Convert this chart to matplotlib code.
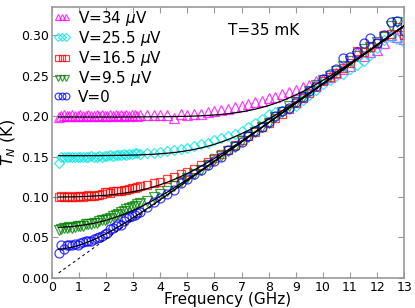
import numpy as np
import matplotlib
matplotlib.use("Agg")
from matplotlib import pyplot as plt

# measured points: fine sweep 0.25-3.15 GHz, coarse sweep 3.25-13 GHz
freq = [0.25, 0.35, 0.45, 0.55, 0.65, 0.75, 0.85, 0.95, 1.05, 1.15,
        1.25, 1.35, 1.45, 1.55, 1.65, 1.75, 1.85, 1.95, 2.05, 2.15,
        2.25, 2.35, 2.45, 2.55, 2.65, 2.75, 2.85, 2.95, 3.05, 3.15,
        3.25, 3.5, 3.75, 4.0, 4.25, 4.5, 4.75, 5.0, 5.25, 5.5,
        5.75, 6.0, 6.25, 6.5, 6.75, 7.0, 7.25, 7.5, 7.75, 8.0,
        8.25, 8.5, 8.75, 9.0, 9.25, 9.5, 9.75, 10.0, 10.25, 10.5,
        10.75, 11.0, 11.25, 11.5, 11.75, 12.0, 12.25, 12.5, 12.75, 13.0]

tn_34 = [0.199, 0.200, 0.201, 0.200, 0.200, 0.201, 0.200, 0.200, 0.201, 0.200,
         0.200, 0.201, 0.200, 0.200, 0.201, 0.200, 0.201, 0.200, 0.200, 0.201,
         0.200, 0.201, 0.200, 0.201, 0.200, 0.201, 0.200, 0.201, 0.201, 0.200,
         0.201, 0.202, 0.201, 0.202, 0.201, 0.198, 0.203, 0.202, 0.203, 0.203,
         0.205, 0.206, 0.208, 0.209, 0.211, 0.213, 0.215, 0.217, 0.219, 0.222,
         0.224, 0.228, 0.230, 0.233, 0.236, 0.239, 0.243, 0.246, 0.249, 0.254,
         0.258, 0.262, 0.279, 0.275, 0.279, 0.282, 0.290, 0.300, 0.298, 0.296]

tn_25 = [0.142, 0.149, 0.150, 0.149, 0.150, 0.150, 0.149, 0.150, 0.150, 0.149,
         0.150, 0.150, 0.151, 0.150, 0.150, 0.151, 0.150, 0.151, 0.151, 0.152,
         0.151, 0.152, 0.152, 0.152, 0.153, 0.152, 0.153, 0.153, 0.154, 0.154,
         0.153, 0.154, 0.155, 0.156, 0.157, 0.158, 0.160, 0.161, 0.163, 0.165,
         0.167, 0.170, 0.173, 0.176, 0.178, 0.182, 0.187, 0.191, 0.197, 0.203,
         0.205, 0.206, 0.209, 0.213, 0.220, 0.226, 0.232, 0.240, 0.245, 0.250,
         0.252, 0.258, 0.263, 0.268, 0.276, 0.284, 0.294, 0.298, 0.296, 0.292]

tn_16 = [0.100, 0.101, 0.100, 0.100, 0.101, 0.100, 0.100, 0.101, 0.101, 0.100,
         0.101, 0.102, 0.101, 0.101, 0.102, 0.103, 0.104, 0.106, 0.106, 0.105,
         0.107, 0.107, 0.108, 0.108, 0.109, 0.109, 0.110, 0.111, 0.111, 0.112,
         0.113, 0.115, 0.117, 0.119, 0.122, 0.125, 0.128, 0.131, 0.135, 0.139,
         0.143, 0.148, 0.153, 0.158, 0.164, 0.170, 0.175, 0.180, 0.186, 0.192,
         0.198, 0.203, 0.209, 0.216, 0.222, 0.229, 0.236, 0.243, 0.249, 0.253,
         0.260, 0.266, 0.281, 0.279, 0.286, 0.290, 0.300, 0.302, 0.310, 0.300]

tn_9 = [0.059, 0.061, 0.062, 0.062, 0.063, 0.062, 0.063, 0.064, 0.064, 0.064,
        0.066, 0.066, 0.067, 0.068, 0.068, 0.070, 0.071, 0.072, 0.073, 0.074,
        0.076, 0.078, 0.079, 0.081, 0.083, 0.085, 0.086, 0.088, 0.089, 0.091,
        0.092, 0.095, 0.100, 0.104, 0.108, 0.113, 0.118, 0.123, 0.128, 0.134,
        0.140, 0.146, 0.151, 0.157, 0.162, 0.169, 0.174, 0.181, 0.186, 0.192,
        0.199, 0.205, 0.212, 0.218, 0.224, 0.231, 0.238, 0.245, 0.250, 0.256,
        0.262, 0.268, 0.275, 0.283, 0.285, 0.292, 0.298, 0.312, 0.316, 0.303]

tn_0 = [0.031, 0.040, 0.036, 0.041, 0.040, 0.041, 0.042, 0.041, 0.043, 0.044,
        0.045, 0.046, 0.045, 0.048, 0.049, 0.050, 0.052, 0.054, 0.056, 0.060,
        0.062, 0.064, 0.066, 0.065, 0.070, 0.074, 0.075, 0.076, 0.078, 0.080,
        0.082, 0.088, 0.094, 0.099, 0.104, 0.109, 0.117, 0.122, 0.128, 0.133,
        0.139, 0.145, 0.150, 0.158, 0.163, 0.168, 0.176, 0.182, 0.187, 0.193,
        0.200, 0.206, 0.210, 0.217, 0.224, 0.231, 0.237, 0.246, 0.252, 0.259,
        0.272, 0.273, 0.279, 0.290, 0.297, 0.291, 0.300, 0.316, 0.318, 0.305]

# fitted curves
fit_freq = [0.25, 0.5, 0.75, 1.0, 1.25, 1.5, 1.75, 2.0, 2.25, 2.5,
            2.75, 3.0, 3.25, 3.5, 3.75, 4.0, 4.25, 4.5, 4.75, 5.0,
            5.25, 5.5, 5.75, 6.0, 6.25, 6.5, 6.75, 7.0, 7.25, 7.5,
            7.75, 8.0, 8.25, 8.5, 8.75, 9.0, 9.25, 9.5, 9.75, 10.0,
            10.25, 10.5, 10.75, 11.0, 11.25, 11.5, 11.75, 12.0, 12.25, 12.5,
            12.75, 13.0]

fit_0 = [0.0353, 0.0364, 0.0380, 0.0403, 0.0432, 0.0466, 0.0504, 0.0546, 0.0592, 0.0640,
         0.0691, 0.0744, 0.0798, 0.0854, 0.0911, 0.0968, 0.1026, 0.1085, 0.1143, 0.1203,
         0.1262, 0.1321, 0.1381, 0.1441, 0.1501, 0.1560, 0.1620, 0.1680, 0.1740, 0.1800,
         0.1860, 0.1920, 0.1980, 0.2040, 0.2100, 0.2160, 0.2220, 0.2280, 0.2340, 0.2400,
         0.2460, 0.2520, 0.2580, 0.2640, 0.2700, 0.2760, 0.2820, 0.2880, 0.2940, 0.3000,
         0.3060, 0.3120]
fit_9 = [0.0625, 0.0629, 0.0635, 0.0645, 0.0657, 0.0672, 0.0690, 0.0712, 0.0738, 0.0767,
         0.0799, 0.0835, 0.0874, 0.0916, 0.0962, 0.1009, 0.1059, 0.1111, 0.1164, 0.1219,
         0.1274, 0.1331, 0.1388, 0.1446, 0.1505, 0.1564, 0.1623, 0.1682, 0.1742, 0.1801,
         0.1861, 0.1921, 0.1980, 0.2040, 0.2100, 0.2160, 0.2220, 0.2280, 0.2340, 0.2400,
         0.2460, 0.2520, 0.2580, 0.2640, 0.2700, 0.2760, 0.2820, 0.2880, 0.2940, 0.3000,
         0.3060, 0.3120]
fit_16 = [0.1000, 0.1001, 0.1002, 0.1004, 0.1007, 0.1011, 0.1016, 0.1022, 0.1030, 0.1040,
          0.1052, 0.1066, 0.1083, 0.1103, 0.1126, 0.1152, 0.1182, 0.1215, 0.1252, 0.1291,
          0.1334, 0.1380, 0.1428, 0.1478, 0.1530, 0.1583, 0.1638, 0.1694, 0.1751, 0.1808,
          0.1866, 0.1925, 0.1984, 0.2043, 0.2102, 0.2161, 0.2221, 0.2281, 0.2341, 0.2400,
          0.2460, 0.2520, 0.2580, 0.2640, 0.2700, 0.2760, 0.2820, 0.2880, 0.2940, 0.3000,
          0.3060, 0.3120]
fit_25 = [0.1511, 0.1511, 0.1511, 0.1511, 0.1511, 0.1512, 0.1512, 0.1513, 0.1514, 0.1515,
          0.1517, 0.1519, 0.1521, 0.1525, 0.1529, 0.1535, 0.1542, 0.1550, 0.1561, 0.1574,
          0.1589, 0.1607, 0.1628, 0.1652, 0.1680, 0.1711, 0.1746, 0.1784, 0.1824, 0.1868,
          0.1915, 0.1964, 0.2014, 0.2067, 0.2121, 0.2176, 0.2232, 0.2290, 0.2347, 0.2406,
          0.2464, 0.2523, 0.2582, 0.2642, 0.2701, 0.2761, 0.2821, 0.2881, 0.2940, 0.3000,
          0.3060, 0.3120]
fit_34 = [0.1990, 0.1990, 0.1990, 0.1990, 0.1990, 0.1990, 0.1990, 0.1990, 0.1990, 0.1990,
          0.1991, 0.1991, 0.1991, 0.1992, 0.1992, 0.1993, 0.1994, 0.1995, 0.1997, 0.1999,
          0.2001, 0.2005, 0.2009, 0.2015, 0.2022, 0.2030, 0.2041, 0.2054, 0.2069, 0.2087,
          0.2108, 0.2132, 0.2160, 0.2191, 0.2226, 0.2264, 0.2304, 0.2348, 0.2395, 0.2444,
          0.2494, 0.2547, 0.2601, 0.2656, 0.2712, 0.2770, 0.2827, 0.2886, 0.2944, 0.3003,
          0.3062, 0.3122]

# quantum limit hf/2k
ql_freq = [0.25, 13.0]
ql_tn = [0.006, 0.312]

series = [
    (tn_34, fit_34, '^', '#ff00ff', r'V=34 $\mu$V'),
    (tn_25, fit_25, 'D', '#00e5e5', r'V=25.5 $\mu$V'),
    (tn_16, fit_16, 's', '#ff0000', r'V=16.5 $\mu$V'),
    (tn_9, fit_9, 'v', '#008000', r'V=9.5 $\mu$V'),
    (tn_0, fit_0, 'o', '#0000ff', 'V=0'),
]

fig = plt.figure(figsize=(4.15, 3.08), dpi=100)
ax = fig.add_axes([0.125, 0.098, 0.849, 0.879])

for data, fit, marker, color, label in series:
    ms = 5.5 if marker == 'D' else 6.5
    if marker == 's':
        ms = 6
    ax.plot(freq, data, linestyle='none', marker=marker, markersize=ms,
            markerfacecolor='none', markeredgecolor=color, markeredgewidth=0.9,
            alpha=0.75, label=label)
ax.plot(ql_freq, ql_tn, 'k--', lw=0.7, dashes=(3, 3))
for data, fit, marker, color, label in series:
    ax.plot(fit_freq, fit, 'k-', lw=0.9, zorder=3)

ax.set_xlim(0, 13)
ax.set_ylim(0, 0.335)
ax.set_xticks(range(0, 14))
ax.set_yticks([0.0, 0.05, 0.10, 0.15, 0.20, 0.25, 0.30])
ax.set_yticklabels(['0.00', '0.05', '0.10', '0.15', '0.20', '0.25', '0.30'])
ax.tick_params(direction='in', top=True, right=True, length=4, width=0.8,
               color='#999999', labelsize=9, pad=2)
for sp in ax.spines.values():
    sp.set_color('#999999')
    sp.set_linewidth(1.2)

ax.set_xlabel('Frequency (GHz)', fontsize=11, labelpad=-1)
ax.set_ylabel(r'$T_N$ (K)', fontsize=11.5, labelpad=2)
ax.text(0.5, 0.915, 'T=35 mK', transform=ax.transAxes, fontsize=11,
        va='center', ha='left')

ax.legend(loc='upper left', bbox_to_anchor=(0.0, 1.0), frameon=False,
          numpoints=3, fontsize=11, borderaxespad=0.0, borderpad=0.1,
          handlelength=1.1, handletextpad=0.5, labelspacing=0.08,
          markerscale=0.75)

fig.savefig('out.png', dpi=100)
